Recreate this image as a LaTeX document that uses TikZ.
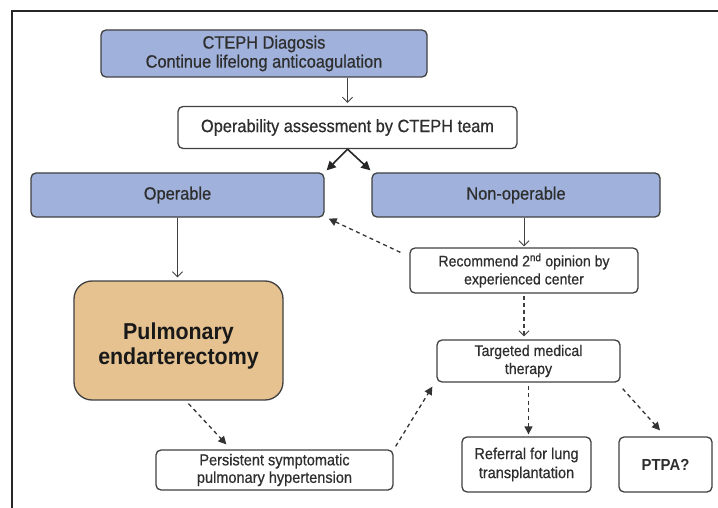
\documentclass[tikz,border=0pt]{standalone}
\usepackage{fontspec}
\setmainfont{Liberation Sans}[FakeStretch=0.92, FakeBold=0.6]
\newfontfamily\pefont{Liberation Sans Bold}[FakeStretch=0.93]
\usetikzlibrary{arrows.meta}
\definecolor{boxblue}{HTML}{A0B2DB}
\definecolor{boxorange}{HTML}{E6C290}
\definecolor{edge}{HTML}{404040}
\definecolor{txt}{HTML}{2E2E2E}
\tikzset{
  box/.style={draw=edge, line width=1.3pt, rounded corners=5pt, inner sep=0pt, align=center, text=txt, anchor=center},
  bluebox/.style={box, fill=boxblue},
  whitebox/.style={box, fill=white},
  openarrow/.style={draw=edge, line width=1pt, -{Straight Barb[length=5pt,width=10pt,line width=0.9pt]}},
  solidfill/.style={draw=black!85, line width=1.6pt, -{Triangle[length=9pt,width=9pt]}},
  dasharrow/.style={draw=black!80, line width=1.3pt, dash pattern=on 4pt off 3.5pt, -{Triangle[length=8pt,width=8pt]}},
  dashopen/.style={draw=edge, line width=1.1pt, dash pattern=on 4pt off 3pt, -{Straight Barb[length=5pt,width=10pt,line width=0.9pt]}},
}
\begin{document}
\begin{tikzpicture}[x=1pt,y=-1pt]
\useasboundingbox (0,0) rectangle (718,508);
\draw[line width=1.6pt, color=black!85] (12,508) -- (12,11) -- (718,11);

\node[bluebox, minimum width=326pt, minimum height=47pt, font=\fontsize{17.8}{19}\selectfont] (diag) at (264,53.5) {CTEPH Diagosis\\Continue lifelong anticoagulation};
\node[whitebox, minimum width=339pt, minimum height=42pt, font=\fontsize{17.8}{19}\selectfont] (opa) at (347.5,127.5) {Operability assessment by CTEPH team};
\node[bluebox, minimum width=293pt, minimum height=44pt, font=\fontsize{17.8}{19}\selectfont] (op) at (177.5,195) {Operable};
\node[bluebox, minimum width=288pt, minimum height=44pt, font=\fontsize{17.8}{19}\selectfont] (nop) at (516,195) {Non-operable};
\node[box, fill=boxorange, rounded corners=18pt, minimum width=209pt, minimum height=119pt, font=\fontsize{23}{25}\pefont, text=black!90] (pe) at (178.5,340.5) {\raisebox{-12pt}[0pt][0pt]{\parbox{200pt}{\centering Pulmonary\\endarterectomy}}};
\node[whitebox, minimum width=228pt, minimum height=45pt, font=\fontsize{15.3}{18}\selectfont] (rec) at (524,270.5) {Recommend 2\textsuperscript{nd} opinion by\\experienced center};
\node[whitebox, minimum width=183pt, minimum height=42pt, font=\fontsize{15.4}{18}\selectfont] (tmt) at (528.5,361) {Targeted medical\\therapy};
\node[whitebox, minimum width=129pt, minimum height=55pt, font=\fontsize{15.8}{19}\selectfont] (ref) at (526.5,464.5) {Referral for lung\\transplantation};
\node[whitebox, minimum width=93pt, minimum height=55pt, font=\fontsize{16}{19}\pefont] (ptpa) at (665.5,464.5) {PTPA?};
\node[whitebox, minimum width=237pt, minimum height=40pt, font=\fontsize{15.8}{17.5}\selectfont] (psph) at (274.5,470) {Persistent symptomatic\\pulmonary hypertension};

% connectors
\draw[openarrow, shorten >=3pt] (opa.north |- diag.south) -- (opa.north);
\draw[solidfill] (opa.south) -- ([xshift=2pt,yshift=2pt]op.north east);
\draw[solidfill] (opa.south) -- ([xshift=-1pt,yshift=2pt]nop.north west);
\draw[openarrow, shorten >=3pt] (op.south) -- (op.south |- pe.north);
\draw[openarrow, shorten >=1pt] (rec.north |- nop.south) -- (rec.north);
\draw[dashopen, shorten <=2pt, shorten >=3pt] (rec.south) -- (rec.south |- tmt.north);
\draw[dasharrow] ([xshift=-9pt,yshift=-5pt]rec.north west) -- ([xshift=4pt,yshift=-1pt]op.south east);
\draw[dasharrow, shorten <=3pt, shorten >=2pt] (tmt.south) -- (tmt.south |- ref.north);
\draw[dasharrow] ([xshift=2pt,yshift=-6pt]tmt.south east) -- ([xshift=-5.5pt,yshift=6pt]ptpa.north);
\draw[dasharrow] ([xshift=10pt,yshift=-3pt]pe.south) -- ([xshift=71pt,yshift=5pt]psph.north west);
\draw[dasharrow] ([xshift=2pt,yshift=3pt]psph.north east) -- ([xshift=-4pt,yshift=-4pt]tmt.south west);
\end{tikzpicture}
\end{document}
